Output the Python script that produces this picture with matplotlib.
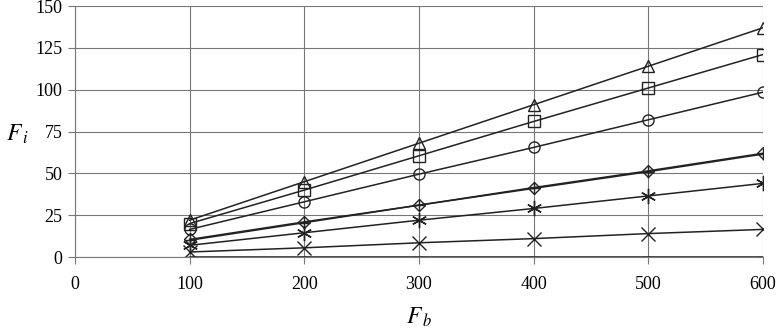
import matplotlib
matplotlib.use('Agg')
import matplotlib.pyplot as plt

plt.rcParams['font.family'] = ['Liberation Serif', 'DejaVu Serif']
plt.rcParams['mathtext.fontset'] = 'stix'

# 讀值自圖
fb = [100, 200, 300, 400, 500, 600]
tri = [22, 45, 68, 91, 114, 137]
sq = [20, 40, 60.5, 81, 101, 121]
circ = [16.5, 33, 49.5, 65.5, 82, 98.5]
dia = [10.5, 21, 31, 41.5, 51.5, 62]
plus = [10, 20.5, 31, 41, 51, 61.5]
star = [7, 14.5, 22, 29, 36.5, 44]
cross = [3, 5.5, 8.5, 11, 14, 16.5]
zero = [0.3, 0.3, 0.3, 0.3, 0.3, 0.3]

fig = plt.figure(figsize=(7.76, 3.34), dpi=100)
ax = fig.add_axes([0.0966, 0.2305, 0.8866, 0.7515])

series = [(tri, '^', 8), (sq, 's', 8), (circ, 'o', 8), (dia, 'D', 6),
          (plus, '+', 8), (star, (6, 2, 0), 11), (cross, 'x', 10),
          (zero, '_', 8)]
for ys, m, ms in series:
    ax.plot(fb, ys, color='#222222', lw=1.1, marker=m, ms=ms,
            mfc='none', mec='#222222', mew=1.0)

ax.set_xlim(0, 600)
ax.set_ylim(0, 150)
ax.set_xticks(range(0, 601, 100))
ax.set_yticks(range(0, 151, 25))
ax.grid(True, color='#777777', lw=0.8)
for s in ['top', 'right']:
    ax.spines[s].set_visible(False)
ax.spines['left'].set_color('#777777')
ax.spines['bottom'].set_color('#777777')
ax.tick_params(labelsize=13, color='#777777', length=5, pad=4)
ax.tick_params(axis='x', pad=9)
ax.set_xlabel('$F_{\\,b}$', fontsize=17, va='center')
ax.xaxis.set_label_coords(0.5, -0.24)
ax.set_ylabel('$F_{\\,i}$', fontsize=17, rotation=0, va='center')
ax.yaxis.set_label_coords(-0.083, 0.49)

fig.savefig('out.png', dpi=100)
